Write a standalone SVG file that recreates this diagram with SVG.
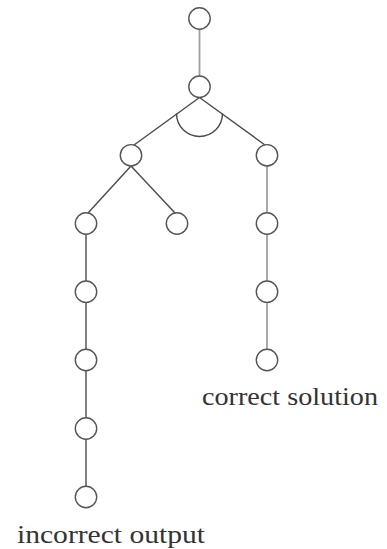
<svg xmlns="http://www.w3.org/2000/svg" width="387" height="549" viewBox="0 0 387 549">
<style>
.n{fill:#fff;stroke:#555;stroke-width:1.4}
.e{stroke:#4a4a4a;stroke-width:1.4;fill:none}
.g{stroke:#a0a0a0;stroke-width:1.8;fill:none}
.t{font-family:"Liberation Serif",serif;font-size:25px;fill:#333}
</style>
<rect width="387" height="549" fill="#fff"/>
<g id="connectors">
<line class="g" x1="199.5" y1="29" x2="199.5" y2="76"/>
<line class="e" x1="199.5" y1="97.5" x2="134" y2="145"/>
<line class="e" x1="199.5" y1="97.5" x2="265" y2="145"/>
<path class="e" d="M176.5,113.5 A23,23 0 0 0 222.5,113.5"/>
<line class="e" x1="131" y1="166" x2="88" y2="213"/>
<line class="e" x1="131" y1="166" x2="175" y2="213"/>
<line class="e" x1="86" y1="234" x2="86" y2="281"/>
<line class="e" x1="86" y1="302" x2="86" y2="349.5"/>
<line class="e" x1="86" y1="370.5" x2="86" y2="418"/>
<line class="e" x1="86" y1="439" x2="86" y2="486.5"/>
<line class="g" x1="267" y1="165.5" x2="267" y2="213"/>
<line class="g" x1="267" y1="234" x2="267" y2="281"/>
<line class="g" x1="267" y1="302" x2="267" y2="349.5"/>
</g>
<g id="n1"><circle class="n" cx="199.5" cy="18.5" r="10.7"/></g>
<g id="n2"><circle class="n" cx="199.5" cy="86.7" r="10.7"/></g>
<g id="nL"><circle class="n" cx="131" cy="155.3" r="10.7"/></g>
<g id="nR"><circle class="n" cx="267" cy="155.3" r="10.7"/></g>
<g id="nLL"><circle class="n" cx="86" cy="223.5" r="10.7"/></g>
<g id="nLR"><circle class="n" cx="177" cy="223.5" r="10.7"/></g>
<g id="nL3"><circle class="n" cx="86" cy="291.7" r="10.7"/></g>
<g id="nL4"><circle class="n" cx="86" cy="360" r="10.7"/></g>
<g id="nL5"><circle class="n" cx="86" cy="428.5" r="10.7"/></g>
<g id="nL6"><circle class="n" cx="86" cy="497" r="10.7"/></g>
<g id="nR2"><circle class="n" cx="267" cy="223.5" r="10.7"/></g>
<g id="nR3"><circle class="n" cx="267" cy="291.7" r="10.7"/></g>
<g id="nR4"><circle class="n" cx="267" cy="360" r="10.7"/></g>
<g id="label-correct"><text class="t" x="202" y="405" textLength="176" lengthAdjust="spacingAndGlyphs">correct solution</text></g>
<g id="label-incorrect"><text class="t" x="17" y="543" textLength="188" lengthAdjust="spacingAndGlyphs">incorrect output</text></g>
</svg>
